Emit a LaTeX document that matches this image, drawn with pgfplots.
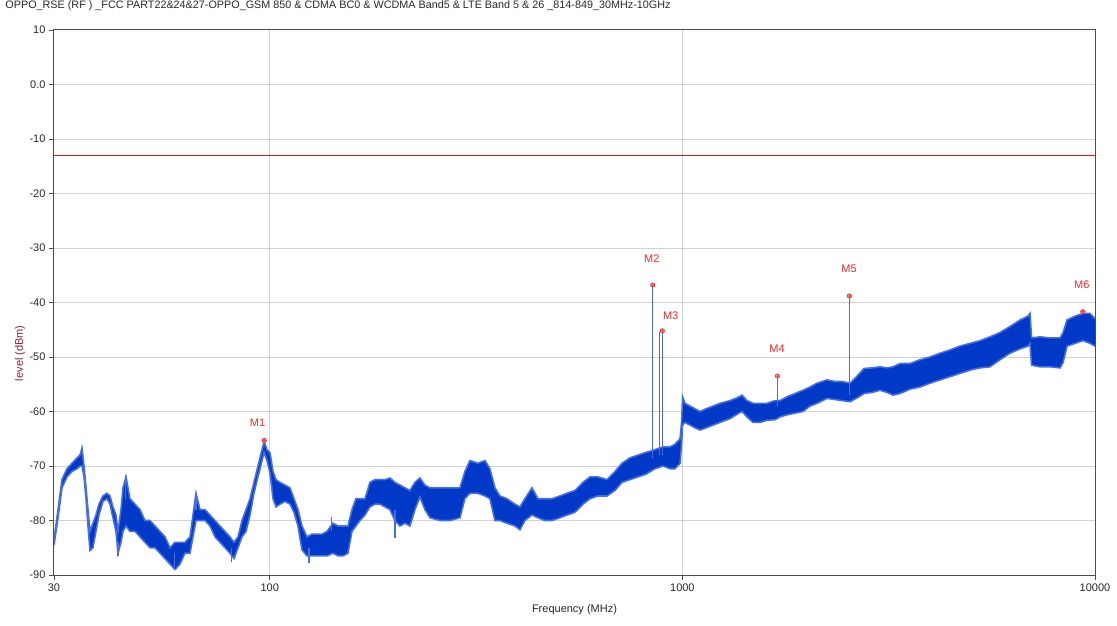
\documentclass[border=0pt]{standalone}
\usepackage{fontspec}
\setmainfont{Liberation Sans}
\usepackage{pgfplots}
\usepgfplotslibrary{fillbetween}
\pgfplotsset{compat=1.18}
\usepackage{pgfplotstable}
\definecolor{tracecol}{RGB}{0,56,200}
\definecolor{spikecol}{RGB}{70,110,225}
\definecolor{edgecol}{RGB}{70,110,220}
\definecolor{limitred}{RGB}{215,25,25}
\definecolor{mkred}{RGB}{240,40,40}
\definecolor{ylabcol}{RGB}{140,30,60}
\definecolor{txtcol}{RGB}{40,40,40}

\pgfplotstableread{
f lo hi
30.00 -84.5 -83.3
30.34 -82 -80.8
30.68 -79.5 -78
31.37 -74 -72.5
32.26 -72 -70.5
33.17 -71 -69.5
34.11 -70.5 -68.5
34.69 -70 -68
35.07 -70 -66.7
35.47 -72 -70
35.87 -76 -74
36.27 -81 -78
36.67 -85.5 -82
37.29 -85 -80.5
37.92 -82 -79
38.56 -79 -77
39.43 -76.5 -75.5
40.32 -76 -75
41.00 -77 -75.5
41.69 -79.5 -77.5
42.40 -82 -79
42.87 -86 -82
43.60 -84 -78
44.09 -82 -74
44.83 -81 -72
45.84 -82 -76
47.14 -82 -77
48.47 -83 -78
49.84 -84 -80
51.25 -85 -80
52.70 -85 -81
54.20 -86 -82
55.73 -87 -83
57.31 -88 -85
58.93 -89 -84
60.60 -88 -84
62.31 -86 -84
64.08 -86 -83
65.16 -83 -79
66.26 -80 -75
67.76 -80 -78
69.67 -80 -78
71.64 -81 -79
73.67 -83 -80
75.75 -84 -81
77.89 -85 -82
80.09 -86 -83
81.90 -87 -84
83.78 -85 -83
85.67 -83 -80
87.60 -82 -78
89.58 -79 -76
91.56 -75 -73
93.63 -72 -70
95.78 -69 -67
96.86 -67.5 -65.5
98.49 -69 -67
100.15 -71.3 -67.6
101.84 -76 -71
103.56 -77.5 -72.5
105.90 -77 -73
108.89 -76.5 -73.5
111.96 -77 -74
114.49 -78.5 -76
117.07 -81 -78
119.72 -85.4 -81
123.11 -86.5 -83
126.59 -86.5 -82.5
130.17 -86.5 -82.5
133.85 -86.5 -82.5
137.63 -86.5 -82
142.32 -86 -80.5
146.34 -86.5 -81
150.48 -86.5 -81
154.73 -86 -81
158.22 -82 -78
161.79 -81 -76
165.45 -80 -76
170.13 -79 -76
174.94 -77.5 -73
179.89 -77 -72.5
184.97 -77 -72.5
190.20 -77.5 -72.5
195.58 -78 -72.2
201.11 -80 -73
206.80 -81 -73.5
212.64 -80.5 -74
218.65 -81 -74.5
224.84 -78 -73
231.19 -75.7 -72.2
237.73 -78 -73.5
244.45 -79.5 -74
258.47 -80 -74
273.32 -80 -74
289.02 -79.5 -74
297.19 -76 -71
305.60 -75 -69
319.56 -75 -69.5
332.29 -75.5 -69
341.70 -76 -70.5
351.36 -80 -74
361.30 -80 -75.5
375.69 -80.5 -76
392.84 -81 -77
403.96 -81.7 -77.5
415.38 -80 -76
431.95 -79 -74
446.65 -79.5 -76
464.45 -80 -76
482.95 -80 -76
505.01 -79.5 -75.5
525.15 -79 -75
549.14 -78.5 -74.5
574.21 -77 -73
597.12 -76 -72
624.39 -75.5 -72
656.54 -75.5 -72.5
686.52 -74.5 -71
713.92 -73 -69.5
746.50 -72.5 -68.5
780.60 -72 -68
816.24 -71.5 -67.5
858.37 -70.5 -67
897.57 -70 -66.5
933.32 -70.5 -66.5
959.73 -70.5 -66
987.12 -69.5 -65
995.6 -66 -62
1001.2 -62.5 -57.3
1015.0 -62 -58.5
1043.7 -62.5 -59
1073.2 -63 -59.5
1103.6 -63.4 -60
1141.2 -63 -59.5
1186.6 -62.5 -59
1233.9 -62 -58.5
1304.7 -61.3 -58
1356.7 -60.5 -57.5
1395.1 -60 -57
1434.6 -61 -58
1483.4 -62 -58.5
1542.5 -62 -58.5
1603.9 -61.6 -58.5
1677.2 -61.5 -58
1724.6 -61 -58
1793.3 -60.6 -57.3
1875.2 -60.3 -56.7
1960.8 -60 -56.1
2039.0 -59 -55.5
2120.2 -58.5 -54.8
2242.0 -57.6 -54.2
2344.4 -57.8 -54.5
2437.8 -58 -54.5
2549.1 -58.2 -54.8
2650.6 -57.5 -53.5
2756.2 -56.7 -52.1
2882.0 -56.5 -52
3013.6 -56.1 -51.8
3133.6 -56.5 -52
3240.3 -57 -51.8
3369.4 -56.7 -51.2
3562.8 -55.9 -51.2
3767.3 -55.5 -50.5
3983.6 -54.8 -50
4212.3 -54.2 -49.3
4454.2 -53.6 -48.7
4709.5 -53 -48
4980.0 -52.4 -47.5
5265.9 -52 -47
5567.6 -51.8 -46.3
5887.3 -50.5 -45.5
6225.3 -49.3 -44.4
6582.3 -48.5 -43.2
6882.8 -48 -42.5
6960.1 -47.5 -42
7018.5 -51.5 -46.5
7359.6 -51.8 -46.3
7782.0 -51.8 -46.5
8228.5 -52 -46.5
8367.4 -51 -45.5
8556.3 -48 -43.2
8946.9 -47.5 -42.5
9355.4 -47 -42
9728.2 -47.5 -42
10000 -48 -43
}\trace

\pgfplotstableread{
f y0 y1
44.8 -76 -71.7
42.9 -84 -86.5
66.3 -78 -75
58.9 -86 -88.5
80.9 -85 -87.6
124.5 -85 -87.8
141.3 -82 -79.3
201.1 -78 -83.2
}\noise

\pgfplotstableread{
f y0 y1
847.6 -68.5 -36.8
879.5 -68 -45.4
894.3 -68 -45.2
1699 -59 -53.5
2539 -57 -38.8
}\spikes

\begin{document}
\begin{tikzpicture}
\begin{axis}[
  at={(0pt,0pt)}, anchor=south west,
  scale only axis, width=1041pt, height=545pt,
  xmode=log, xmin=30, xmax=10000, ymin=-90, ymax=10,
  xtick={30,100,1000,10000}, xticklabels={30,100,1000,10000},
  minor xtick={},
  ytick={-90,-80,-70,-60,-50,-40,-30,-20,-10,0,10},
  yticklabels={-90,-80,-70,-60,-50,-40,-30,-20,-10,0.0,10},
  tick align=outside, xtick pos=left, ytick pos=left,
  major tick length=5pt,
  tick style={black!70, line width=0.8pt},
  grid=major, major grid style={black!18, line width=1pt},
  axis line style={black!70, line width=1pt},
  font=\fontsize{11}{13}\selectfont,
  ticklabel style={text=txtcol},
  title={OPPO\_RSE (RF ) \_FCC PART22\&24\&27-OPPO\_GSM 850 \& CDMA BC0 \& WCDMA Band5 \& LTE Band 5 \& 26 \_814-849\_30MHz-10GHz},
  title style={at={(axis description cs:-0.05,1.033)}, anchor=west, text=txtcol, font=\fontsize{10.8}{13}\selectfont},
  xlabel={Frequency (MHz)},
  xlabel style={at={(axis description cs:0.5,-0.064)}, anchor=center, text=txtcol},
  ylabel={level (dBm)},
  ylabel style={at={(axis description cs:-0.0327,0.407)}, anchor=center, text=ylabcol},
  clip=true,
]
% limit line
\addplot[color=limitred, line width=1.1pt] coordinates {(30,-13) (10000,-13)};
\addplot[draw=edgecol, line width=1.6pt, name path=hi] table[x=f,y=hi]{\trace};
\addplot[draw=edgecol, line width=1.6pt, name path=lo] table[x=f,y=lo]{\trace};
\addplot[fill=tracecol, draw=none] fill between[of=hi and lo];
% isolated noise spikes of the trace, as vertical error bars
\addplot[draw=none, mark=none, error bars/.cd, y dir=plus, y explicit,
  error bar style={color=edgecol, line width=1.2pt}, error mark=none]
  table[x=f, y=y0, y error expr=\thisrow{y1}-\thisrow{y0}]{\noise};
% marker spikes
\addplot[draw=none, mark=none, error bars/.cd, y dir=plus, y explicit,
  error bar style={color=spikecol, line width=1.1pt}, error mark=none]
  table[x=f, y=y0, y error expr=\thisrow{y1}-\thisrow{y0}]{\spikes};
% markers
\addplot[only marks, mark=oplus*, mark size=2.2pt, draw=mkred, fill=mkred!35, line width=0.6pt]
  coordinates {(97.0,-65.3) (847.6,-36.8) (894.3,-45.2) (1699,-53.5) (2539,-38.8) (9339,-41.7)};
\node[text=mkred] at (axis cs:93.4,-62.05) {M1};
\node[text=mkred] at (axis cs:843.0,-31.9) {M2};
\node[text=mkred] at (axis cs:936.9,-42.5) {M3};
\node[text=mkred] at (axis cs:1696.4,-48.5) {M4};
\node[text=mkred] at (axis cs:2535,-33.9) {M5};
\node[text=mkred] at (axis cs:9288,-36.8) {M6};
\end{axis}
\pgfresetboundingbox
\path[use as bounding box] (-54pt,-50pt) rectangle (1063pt,575pt);
\end{tikzpicture}
\end{document}
